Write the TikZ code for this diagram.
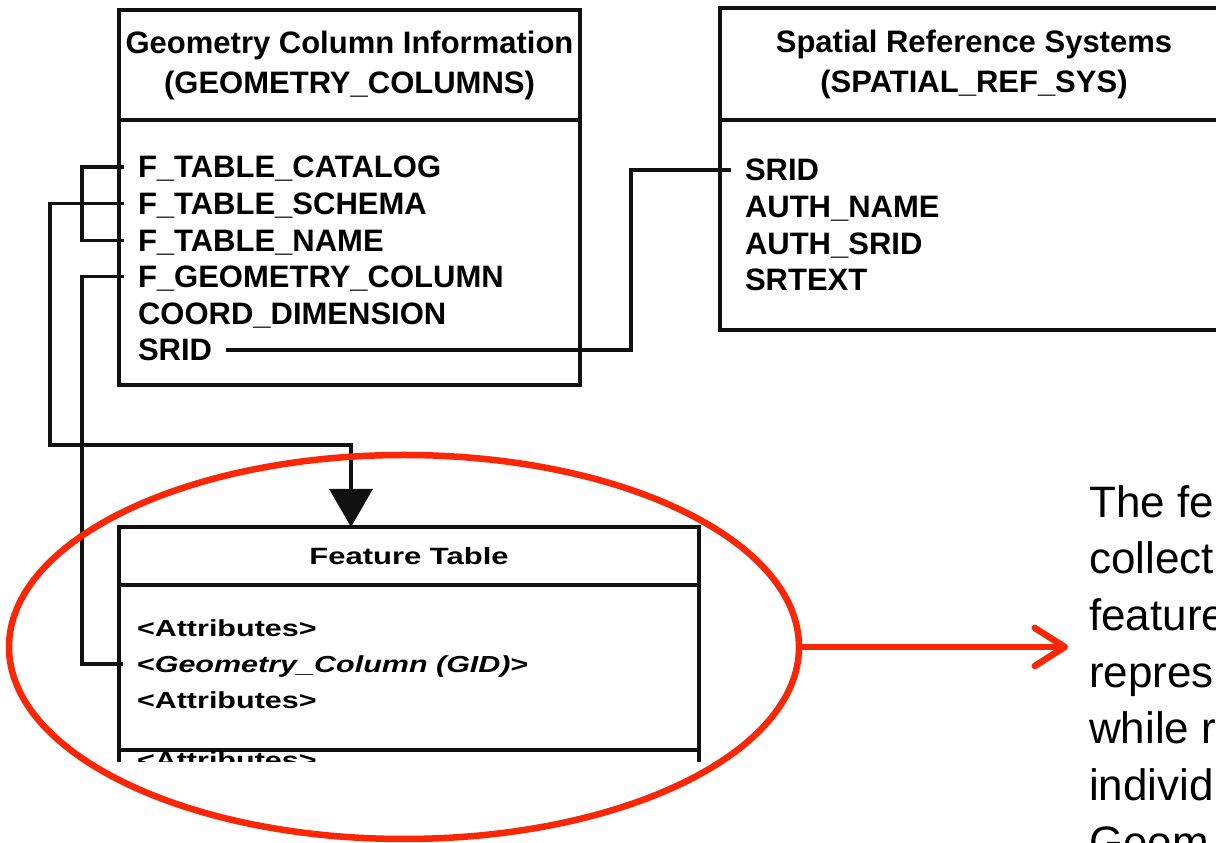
\documentclass[tikz,border=0pt]{standalone}
\usepackage{fontspec}
\setmainfont{Liberation Sans}
\usetikzlibrary{arrows.meta,positioning,calc,shapes.geometric}
\definecolor{ink}{RGB}{17,17,17}
\definecolor{hilite}{RGB}{250,38,4}
\newcommand{\squash}[1]{\scalebox{1}[0.76]{#1}}
\tikzset{tabhead/.style={draw=ink,line width=3.2pt,anchor=north west,align=center,inner sep=0pt,outer sep=0pt,font=\fontsize{31}{40}\selectfont\bfseries},tabbody/.style={draw=ink,line width=3.2pt,inner sep=0pt,outer sep=0pt},field/.style={anchor=west,inner xsep=14pt,inner ysep=0pt,outer sep=0pt,text height=22pt,text depth=0pt,minimum height=36.6pt,font=\fontsize{31}{37}\selectfont\bfseries},ffield/.style={field,text height=17pt,minimum height=36pt,font=\fontsize{30.5}{36}\selectfont\bfseries},wire/.style={draw=ink,line width=3.2pt},fk/.style={wire,-{Triangle[length=38pt,width=43pt]}},callout/.style={draw=hilite,line width=6.5pt,line cap=round,-{Straight Barb[length=30pt,width=38pt,round]}}}

\begin{document}
\begin{tikzpicture}[x=1pt,y=1pt,node distance=0pt]
\useasboundingbox (0,0) rectangle (1216,843);
\clip (0,0) rectangle (1216,843);
% geometry columns table
\node[tabhead,minimum width=461pt,minimum height=110pt] (gchead) at (119,833) {Geometry Column Information\\(GEOMETRY\_COLUMNS)};
\node[tabbody,minimum width=461pt,minimum height=265pt,below=of gchead] (gcbody) {};
\node[field] (gcat) at (124,676) {F\_TABLE\_CATALOG};
\node[field,below=0pt of gcat.south west,anchor=north west] (gschema) {F\_TABLE\_SCHEMA};
\node[field,below=0pt of gschema.south west,anchor=north west] (gname) {F\_TABLE\_NAME};
\node[field,below=0pt of gname.south west,anchor=north west] (ggeom) {F\_GEOMETRY\_COLUMN};
\node[field,below=0pt of ggeom.south west,anchor=north west] (gdim) {COORD\_DIMENSION};
\node[field,below=0pt of gdim.south west,anchor=north west] (gsrid) {SRID};
% spatial reference systems table
\node[tabhead,minimum width=508pt,minimum height=112pt] (srhead) at (720,835) {Spatial Reference Systems\\(SPATIAL\_REF\_SYS)};
\node[tabbody,minimum width=508pt,minimum height=210pt,below=of srhead] (srbody) {};
\node[field] (ssrid) at (731,673) {SRID};
\node[field,below=0pt of ssrid.south west,anchor=north west] (sauth) {AUTH\_NAME};
\node[field,below=0pt of sauth.south west,anchor=north west] (sasrid) {AUTH\_SRID};
\node[field,below=0pt of sasrid.south west,anchor=north west] (stext) {SRTEXT};
% feature table
\node[tabhead,minimum width=580pt,minimum height=58pt] (fthead) at (119,316) {\squash{Feature Table}};
\node[tabbody,minimum width=580pt,minimum height=165pt,below=of fthead] (ftbody) {};
\node[ffield] (fattr) at (123,215) {\squash{<Attributes>}};
\node[ffield,below=0pt of fattr.south west,anchor=north west] (fgeom) {\squash{<\textit{Geometry\_Column (GID)}>}};
\node[ffield,below=0pt of fgeom.south west,anchor=north west] (fattr2) {\squash{<Attributes>}};
\begin{scope}
\clip (100,81) rectangle (720,320);
\node[tabbody,minimum width=580pt,minimum height=100pt,below=of ftbody] (fttail) {};
\node[ffield] (fattr3) at (123,83) {\squash{<Attributes>}};
\end{scope}
% links
\coordinate (bend) at (50,398);
\draw[wire] (gcat.west) -- ++(-42,0) |- (gname.west);
\draw[fk] (gschema.west) -| (bend) -| ($(fthead.north west)!0.4!(fthead.north east)$);
\draw[wire] (ggeom.west) -- ++(-42,0) |- (fgeom.west);
\draw[wire] (gsrid.east) -| ([xshift=-100pt]ssrid.west) -- (ssrid.west);
% highlight and note
\node[draw=hilite,line width=6.5pt,ellipse,minimum width=790pt,minimum height=384pt,inner sep=0pt] (focus) at (404,196) {};
\node[anchor=north west,align=left,inner sep=0pt,font=\fontsize{44}{56.7}\selectfont] (note) at (1089,358) {The fe\\collect\\feature\\repres\\while r\\individ\\Geom};
\coordinate (notetip) at (1068,196);
\draw[callout] (focus.east) -- (notetip);
\end{tikzpicture}
\end{document}
